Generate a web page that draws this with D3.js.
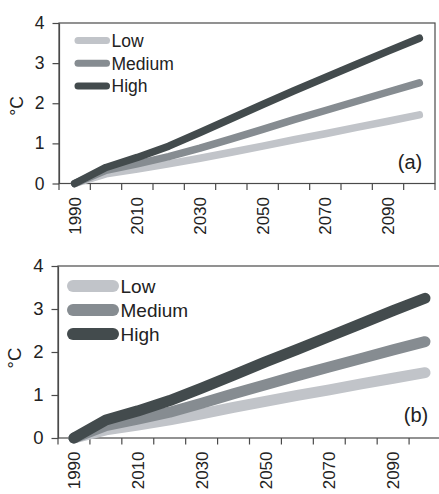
<!DOCTYPE html>
<html><head><meta charset="utf-8">
<script src="https://cdn.jsdelivr.net/npm/d3@7"></script>
<style>body{margin:0;background:#fff}svg{display:block}text{font-family:"Liberation Sans",Arial,sans-serif;fill:#222}</style>
</head><body><svg id="c" width="439" height="494"></svg>
<script>
const years = [1990,2000,2010,2020,2030,2040,2050,2060,2070,2080,2090,2100];
const yearLabels = [1990,2010,2030,2050,2070,2090];
const yTicks = [0,1,2,3,4];
const seriesNames = ["Low","Medium","High"];
const seriesColors = ["#c1c4c9","#868c91","#434b4d"];
const lowA  = [0,0.24,0.36,0.49,0.63,0.78,0.93,1.09,1.24,1.40,1.55,1.71];
const medA  = [0,0.33,0.49,0.67,0.88,1.11,1.35,1.59,1.82,2.05,2.28,2.51];
const highA = [0,0.40,0.65,0.93,1.27,1.62,1.97,2.31,2.64,2.97,3.30,3.62];
const lowB  = [0,0.19,0.30,0.42,0.56,0.71,0.85,0.99,1.12,1.26,1.39,1.52];
const medB  = [0,0.29,0.44,0.60,0.81,1.03,1.24,1.45,1.65,1.85,2.05,2.24];
const highB = [0,0.42,0.63,0.87,1.16,1.46,1.77,2.06,2.36,2.66,2.96,3.25];

const svg = d3.select("#c");

function panel(cfg){
  const g = svg.append("g");
  const x = d3.scaleBand().domain(years).range([cfg.left,cfg.right]).paddingInner(0).paddingOuter(0);
  const y = d3.scaleLinear().domain([0,4]).range([cfg.bottom,cfg.top]);
  const axisCol = "#4a4a4a";
  g.append("rect").attr("x",cfg.left).attr("y",cfg.top).attr("width",cfg.right-cfg.left).attr("height",cfg.bottom-cfg.top)
    .attr("fill","none").attr("stroke",axisCol).attr("stroke-width",1.2);
  const ya = g.append("g").attr("transform",`translate(${cfg.left},0)`)
    .call(d3.axisLeft(y).tickValues(yTicks).tickFormat(d3.format("d")).tickSize(6.5).tickSizeOuter(0).tickPadding(8));
  ya.select(".domain").attr("stroke",axisCol).attr("stroke-width",1.2);
  ya.selectAll(".tick line").attr("stroke",axisCol).attr("stroke-width",1.2);
  ya.selectAll(".tick text").attr("font-size",cfg.yfs).attr("fill","#222").attr("font-family","Liberation Sans, Arial, sans-serif");
  const bounds = years.map(d=>x(d)).concat([cfg.right]);
  g.selectAll(".xt").data(bounds).enter().append("line")
    .attr("x1",d=>d).attr("x2",d=>d).attr("y1",cfg.bottom).attr("y2",cfg.bottom+6.5)
    .attr("stroke",axisCol).attr("stroke-width",1.2);
  g.selectAll(".xl").data(yearLabels).enter().append("text")
    .attr("transform",d=>`translate(${x(d)+x.bandwidth()/2},${cfg.bottom+13.5}) rotate(-90)`)
    .attr("text-anchor","end").attr("dy","0.36em").attr("font-size",cfg.xfs).text(d=>d);
  g.append("text").attr("transform",`translate(${cfg.ytx},${cfg.yty}) rotate(-90)`)
    .attr("text-anchor","middle").attr("dy","0.35em").attr("font-size",cfg.yfs).text("°C");
  const line = d3.line().x((d,i)=>x(years[i])+x.bandwidth()/2).y(d=>y(d));
  cfg.series.forEach((s,k)=>{
    g.append("path").datum(s).attr("d",line).attr("fill","none")
      .attr("stroke",seriesColors[k]).attr("stroke-width",cfg.lw)
      .attr("stroke-linecap","round").attr("stroke-linejoin","round");
  });
  seriesNames.forEach((n,k)=>{
    const ly = cfg.legY + k*cfg.legStep;
    g.append("line").attr("x1",cfg.legX1).attr("x2",cfg.legX2).attr("y1",ly).attr("y2",ly)
      .attr("stroke",seriesColors[k]).attr("stroke-width",cfg.legW).attr("stroke-linecap","round");
    g.append("text").attr("x",cfg.legTx).attr("y",ly).attr("dy","0.36em").attr("font-size",cfg.legfs).text(n);
  });
  g.append("text").attr("x",cfg.tagX).attr("y",cfg.tagY).attr("text-anchor","middle").attr("dy","0.35em")
    .attr("font-size",cfg.tagfs).text(cfg.tag);
}

panel({left:59,right:435,top:23,bottom:183.5,series:[lowA,medA,highA],lw:7.5,
  legX1:78,legX2:106.5,legTx:111.5,legY:40.5,legStep:22.8,legW:7,legfs:17.5,yfs:17.5,xfs:17,ytx:17,yty:106,
  tag:"(a)",tagX:410,tagY:162,tagfs:20});
panel({left:58,right:441,top:266,bottom:438,series:[lowB,medB,highB],lw:11,
  legX1:73,legX2:113,legTx:120.5,legY:286,legStep:24,legW:12,legfs:19,yfs:18.5,xfs:17,ytx:15,yty:358,
  tag:"(b)",tagX:416,tagY:415,tagfs:20});
</script></body></html>
